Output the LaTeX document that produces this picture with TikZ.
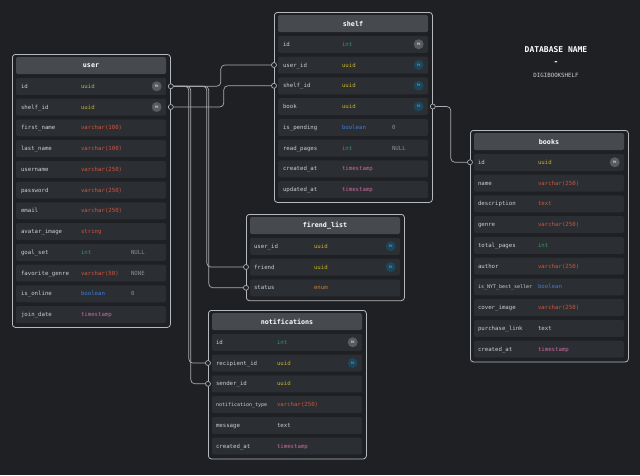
\documentclass[tikz,border=0pt]{standalone}
\usepackage{fontspec}
\setmonofont{DejaVu Sans Mono}
\usepackage{tikz}
\usetikzlibrary{positioning,calc}

\definecolor{canvas}{HTML}{1E2023}
\definecolor{edgegray}{HTML}{B5B8BC}
\definecolor{headgray}{HTML}{46494D}
\definecolor{rowgray}{HTML}{2B2E32}
\definecolor{namegray}{HTML}{CDD0D4}
\definecolor{extragray}{HTML}{8C8F94}
\definecolor{linkgray}{HTML}{A9ACB0}
\definecolor{tuuid}{HTML}{C9B32A}
\definecolor{tred}{HTML}{D4553E}
\definecolor{tint}{HTML}{2F9E63}
\definecolor{tbool}{HTML}{3D7FD6}
\definecolor{tstamp}{HTML}{CF6A9E}
\definecolor{tenum}{HTML}{C7803C}
\definecolor{tplain}{HTML}{CDD0D4}
\definecolor{pkfill}{HTML}{585B60}
\definecolor{fkfill}{HTML}{1E4658}
\definecolor{fktext}{HTML}{3A9FD6}

\begin{document}
\begin{tikzpicture}[
  x=1pt, y=-1pt,
  tblframe/.style={draw=edgegray, line width=0.8pt, rounded corners=3pt, fill=canvas, minimum width=158pt, inner sep=0pt, anchor=north west},
  tblhead/.style={fill=headgray, rounded corners=1.5pt, minimum width=150pt, minimum height=17pt, inner sep=0pt, text=white, font=\ttfamily\bfseries\fontsize{6.7}{7}\selectfont},
  tblrow/.style={fill=rowgray, rounded corners=1.5pt, minimum width=150pt, minimum height=17pt, inner sep=0pt},
  colname/.style={anchor=mid west, inner sep=0pt, text=namegray, font=\ttfamily\fontsize{5.7}{6}\selectfont},
  pk/.style={circle, fill=pkfill, minimum size=10pt, inner sep=0pt, text=namegray, font=\ttfamily\bfseries\fontsize{3.2}{3.2}\selectfont},
  fk/.style={pk, fill=fkfill, text=fktext},
  link/.style={draw=linkgray, line width=0.7pt, rounded corners=4pt},
  joint/.style={draw=linkgray, fill=canvas, line width=0.7pt}
]
\fill[canvas] (0,0) rectangle (640,475);
\useasboundingbox (0,0) rectangle (640,475);

% title
\node[font=\ttfamily\bfseries\fontsize{8}{9}\selectfont, text=white] (dbtitle) at (556,50) {DATABASE NAME};
\node[font=\ttfamily\bfseries\fontsize{8}{9}\selectfont, text=white] (dbdash) at (556,63) {-};
\node[font=\ttfamily\fontsize{5.8}{6}\selectfont, text=namegray] (dbname) at (556,75) {DIGIBOOKSHELF};

% user
\node[tblframe, minimum height=273pt] (user) at (12,54) {};
\node[tblhead] (user-head) at (91,65.5) {user};
\foreach \n/\t/\c/\x [count=\i] in {id/uuid/uuid/{}, shelf\_id/uuid/uuid/{}, first\_name/varchar(100)/red/{},
    last\_name/varchar(100)/red/{}, username/varchar(250)/red/{}, password/varchar(250)/red/{},
    email/varchar(250)/red/{}, avatar\_image/string/red/{}, goal\_set/int/int/NULL,
    favorite\_genre/varchar(50)/red/NONE, is\_online/boolean/bool/0, join\_date/timestamp/stamp/{}} {
  \node[tblrow] (user-\i) at (91,65.5+20.75*\i) {};
  \node[colname] (user-\i-n) at ([xshift=5pt]user-\i.west) {\n};
  \node[colname, text=t\c] (user-\i-t) at ([xshift=65pt]user-\i.west) {\t};
  \node[colname, text=extragray] (user-\i-x) at ([xshift=115pt]user-\i.west) {\x};
}
\foreach \i in {1,2} \node[pk] (user-\i-k) at ([xshift=-9.5pt]user-\i.east) {PK};

% shelf
\node[tblframe, minimum height=190pt] (shelf) at (274,12) {};
\node[tblhead] (shelf-head) at (353,23.5) {shelf};
\foreach \n/\t/\c/\x [count=\i] in {id/int/int/{}, user\_id/uuid/uuid/{}, shelf\_id/uuid/uuid/{}, book/uuid/uuid/{},
    is\_pending/boolean/bool/0, read\_pages/int/int/NULL, created\_at/timestamp/stamp/{}, updated\_at/timestamp/stamp/{}} {
  \node[tblrow] (shelf-\i) at (353,23.5+20.75*\i) {};
  \node[colname] (shelf-\i-n) at ([xshift=5pt]shelf-\i.west) {\n};
  \node[colname, text=t\c] (shelf-\i-t) at ([xshift=64pt]shelf-\i.west) {\t};
  \node[colname, text=extragray] (shelf-\i-x) at ([xshift=114pt]shelf-\i.west) {\x};
}
\node[pk] (shelf-1-k) at ([xshift=-9.5pt]shelf-1.east) {PK};
\foreach \i in {2,3,4} \node[fk] (shelf-\i-k) at ([xshift=-9.5pt]shelf-\i.east) {FK};

% books
\node[tblframe, minimum height=231.5pt] (books) at (470,130) {};
\node[tblhead] (books-head) at (549,141.5) {books};
\foreach \n/\t/\c [count=\i] in {id/uuid/uuid, name/varchar(250)/red, description/text/red, genre/varchar(250)/red,
    total\_pages/int/int, author/varchar(250)/red, {\fontsize{5}{5}\selectfont is\_NYT\_best\_seller}/boolean/bool,
    cover\_image/varchar(250)/red, purchase\_link/text/plain, created\_at/timestamp/stamp} {
  \node[tblrow] (books-\i) at (549,141.5+20.75*\i) {};
  \node[colname] (books-\i-n) at ([xshift=4pt]books-\i.west) {\n};
  \node[colname, text=t\c] (books-\i-t) at ([xshift=64pt]books-\i.west) {\t};
}
\node[pk] (books-1-k) at ([xshift=-9.5pt]books-1.east) {PK};

% firend_list
\node[tblframe, minimum height=86.25pt] (friends) at (246,214) {};
\node[tblhead] (friends-head) at (325,225.5) {firend\_list};
\foreach \n/\t/\c [count=\i] in {user\_id/uuid/uuid, friend/uuid/uuid, status/enum/enum} {
  \node[tblrow] (friends-\i) at (325,225.5+20.75*\i) {};
  \node[colname] (friends-\i-n) at ([xshift=4pt]friends-\i.west) {\n};
  \node[colname, text=t\c] (friends-\i-t) at ([xshift=64pt]friends-\i.west) {\t};
}
\foreach \i in {1,2} \node[fk] (friends-\i-k) at ([xshift=-9.5pt]friends-\i.east) {FK};

% notifications
\node[tblframe, minimum height=148.5pt] (notif) at (208,310) {};
\node[tblhead] (notif-head) at (287,321.5) {notifications};
\foreach \n/\t/\c [count=\i] in {id/int/int, recipient\_id/uuid/uuid, sender\_id/uuid/uuid,
    {\fontsize{5}{5}\selectfont notification\_type}/varchar(250)/red, message/text/plain, created\_at/timestamp/stamp} {
  \node[tblrow] (notif-\i) at (287,321.5+20.75*\i) {};
  \node[colname] (notif-\i-n) at ([xshift=4pt]notif-\i.west) {\n};
  \node[colname, text=t\c] (notif-\i-t) at ([xshift=65pt]notif-\i.west) {\t};
}
\node[pk] (notif-1-k) at ([xshift=-9.5pt]notif-1.east) {PK};
\node[fk] (notif-2-k) at ([xshift=-9.5pt]notif-2.east) {FK};

% connectors
\coordinate (uid) at (user.east |- user-1);
\coordinate (ushelf) at (user.east |- user-2);
\coordinate (suser) at (shelf.west |- shelf-2);
\coordinate (sshelf) at (shelf.west |- shelf-3);
\coordinate (sbook) at (shelf.east |- shelf-4);
\coordinate (bid) at (books.west |- books-1);
\coordinate (ffriend) at (friends.west |- friends-2);
\coordinate (fstatus) at (friends.west |- friends-3);
\coordinate (nrecip) at (notif.west |- notif-2);
\coordinate (nsender) at (notif.west |- notif-3);

\draw[link] (uid) -- ++(50,0) |- (suser);
\draw[link] (ushelf) -- ++(53,0) |- (sshelf);
\draw[link] (uid) -- ++(36,0) |- (ffriend);
\draw[link] (uid) -- ++(38,0) |- (fstatus);
\draw[link] (uid) -- ++(18,0) |- (nrecip);
\draw[link] (uid) -- ++(20,0) |- (nsender);
\draw[link] (sbook) -- ++(18,0) |- (bid);
\foreach \p in {uid,ushelf,suser,sshelf,sbook,bid,ffriend,fstatus,nrecip,nsender}
  \filldraw[joint] (\p) circle (2.5pt);
\end{tikzpicture}
\end{document}
